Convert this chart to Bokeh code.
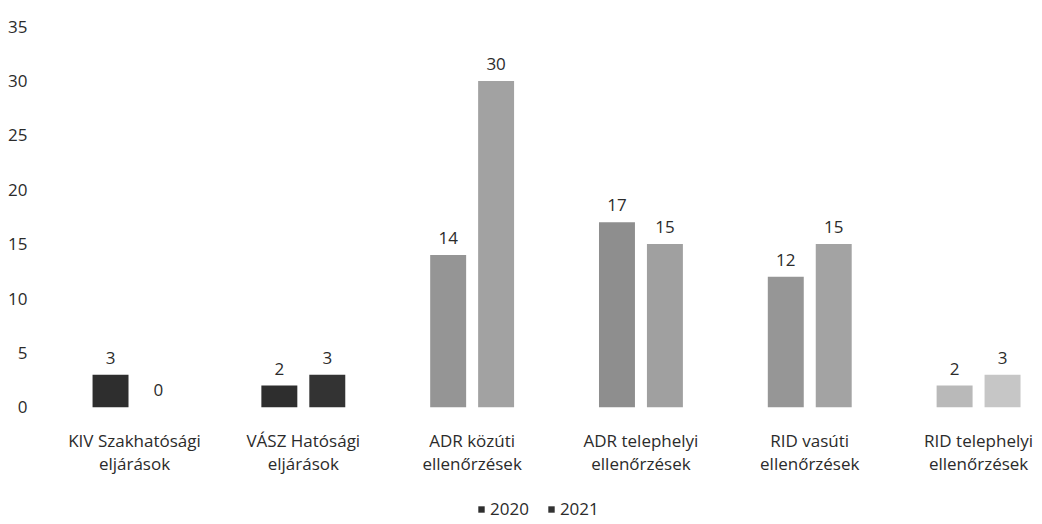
from bokeh.plotting import figure
from bokeh.models import (ColumnDataSource, Range1d, FixedTicker, Legend, LegendItem)
from bokeh.embed import file_html
from bokeh.resources import INLINE
from bokeh.core.properties import value

categories = ["KIV Szakhatósági\neljárások", "VÁSZ Hatósági\neljárások",
              "ADR közúti\nellenőrzések", "ADR telephelyi\nellenőrzések",
              "RID vasúti\nellenőrzések", "RID telephelyi\nellenőrzések"]
series = ["2020", "2021"]
values_2020 = [3, 2, 14, 17, 12, 2]
values_2021 = [0, 3, 30, 15, 15, 3]
colors_2020 = ["#2e2e2e", "#2e2e2e", "#959595", "#8e8e8e", "#969696", "#b9b9b9"]
colors_2021 = ["#333333", "#333333", "#a2a2a2", "#a0a0a0", "#a3a3a3", "#c6c6c6"]
y_ticks = [0, 5, 10, 15, 20, 25, 30, 35]

FONT = "Open Sans"
TXT = "#2b2b2b"
FS = "17px"

idx = list(range(len(categories)))
off = 0.142
bw = 0.213

src20 = ColumnDataSource(dict(x=[i - off for i in idx], top=values_2020, color=colors_2020,
                              label=[str(v) for v in values_2020]))
src21 = ColumnDataSource(dict(x=[i + off for i in idx], top=values_2021, color=colors_2021,
                              label=[str(v) for v in values_2021]))
src_cat = ColumnDataSource(dict(x=idx, y=[0] * len(idx), text=categories))

p = figure(frame_width=996, frame_height=494, output_backend="svg", toolbar_location=None,
           x_range=Range1d(-0.545, 5.355), y_range=Range1d(-10.4, 35))
p.min_border_left = 42
p.min_border_top = 26
p.min_border_right = 0
p.min_border_bottom = 0
p.outline_line_color = None
p.grid.grid_line_color = None
p.background_fill_color = "white"

r20 = p.vbar(x="x", top="top", width=bw, fill_color="color", line_color=None, source=src20)
r21 = p.vbar(x="x", top="top", width=bw, fill_color="color", line_color=None, source=src21)

for s in (src20, src21):
    p.text(x="x", y="top", text="label", source=s, text_align="center", text_baseline="bottom",
           y_offset=-11, text_font=value(FONT), text_font_size=FS, text_color=TXT)

# category labels (two lines) under the baseline
p.text(x="x", y="y", text="text", source=src_cat, text_align="center", text_baseline="top",
       y_offset=22, text_font=value(FONT), text_font_size=FS, text_color=TXT,
       text_line_height=1.0)

p.xaxis.visible = False
p.yaxis.ticker = FixedTicker(ticks=y_ticks)
p.yaxis.axis_line_color = None
p.yaxis.major_tick_line_color = None
p.yaxis.minor_tick_line_color = None
p.yaxis.major_label_text_font = FONT
p.yaxis.major_label_text_color = TXT
p.yaxis.major_label_text_font_size = FS
p.yaxis.major_label_standoff = 9

legend = Legend(items=[LegendItem(label=series[0], renderers=[r20], index=0),
                       LegendItem(label=series[1], renderers=[r21], index=0)],
                orientation="horizontal", location=(435, 0),
                label_text_font=FONT, label_text_font_size=FS, label_text_color=TXT,
                glyph_width=8, glyph_height=8, spacing=18, padding=0, margin=0,
                border_line_color=None, background_fill_alpha=0, label_standoff=5)
p.add_layout(legend, "center")

open("out.html", "w").write(file_html(p, INLINE))
